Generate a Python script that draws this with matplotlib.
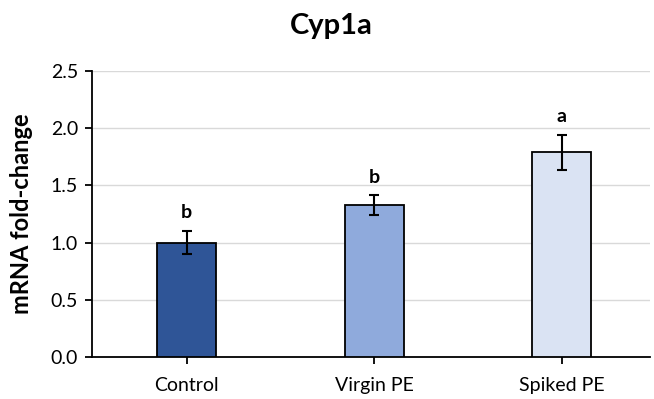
import matplotlib
matplotlib.use("Agg")
import matplotlib.pyplot as plt

categories = ["Control", "Virgin PE", "Spiked PE"]
values = [1.00, 1.33, 1.79]
errors = [0.10, 0.09, 0.155]
letters = ["b", "b", "a"]
letter_y = [1.26, 1.57, 2.10]
colors = ["#2F5597", "#8FAADC", "#DAE3F3"]
yticks = [0.0, 0.5, 1.0, 1.5, 2.0, 2.5]

plt.rcParams['font.family'] = ['Lato', 'DejaVu Sans']

fig = plt.figure(figsize=(6.54, 3.99), dpi=100)
ax = fig.add_axes([0.1407, 0.105, 0.853, 0.717])
x = list(range(len(categories)))
ax.bar(x, values, width=0.315, color=colors, edgecolor="black", linewidth=1.3, zorder=3)
ax.errorbar(x, values, yerr=errors, fmt="none", ecolor="black", elinewidth=1.5,
            capsize=3.4, capthick=1.5, zorder=4)
for xi, t, ly in zip(x, letters, letter_y):
    ax.text(xi, ly, t, ha="center", va="center", fontsize=14, fontweight="bold")

ax.set_xlim(-0.505, 2.47)
ax.set_ylim(0, 2.5)
ax.set_yticks(yticks)
ax.set_yticklabels([f"{v:.1f}" for v in yticks])
ax.set_xticks(x)
ax.set_xticklabels(categories)
ax.tick_params(axis="both", labelsize=14, width=1.3, length=5, direction="out")
ax.tick_params(axis="x", pad=9)
ax.tick_params(axis="y", pad=5)
ax.grid(axis="y", color="#D9D9D9", linewidth=1, zorder=0)
ax.spines["top"].set_visible(False)
ax.spines["right"].set_visible(False)
ax.spines["left"].set_linewidth(1.3)
ax.spines["bottom"].set_linewidth(1.3)
ax.set_ylabel("mRNA fold-change", fontsize=17, fontweight="bold", labelpad=13)
fig.text(0.506, 0.935, "Cyp1a", ha="center", va="center", fontsize=21, fontweight="bold")

fig.savefig("out.png", dpi=100)
